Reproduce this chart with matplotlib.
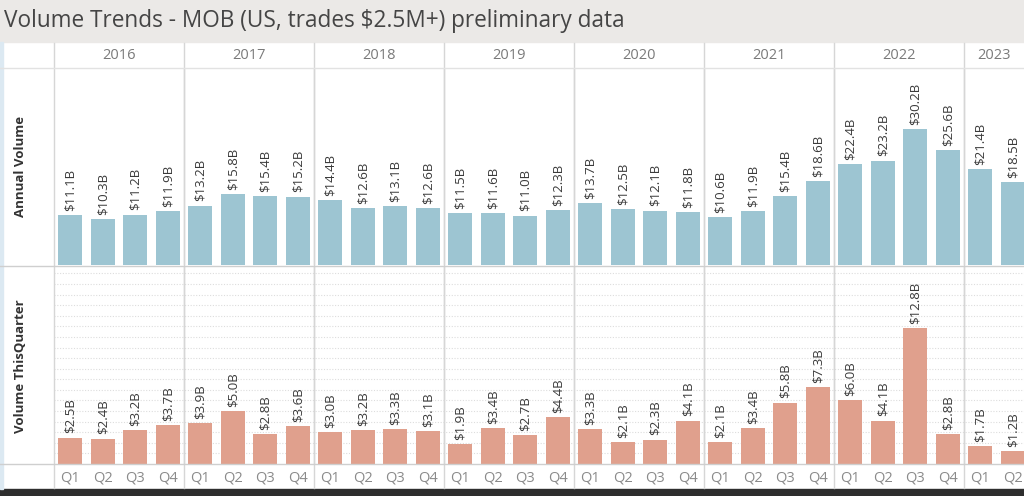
import numpy as np
import matplotlib.pyplot as plt
from matplotlib.patches import Rectangle
from matplotlib.lines import Line2D

plt.rcParams['font.family'] = ['Open Sans', 'DejaVu Sans']

years = ["2016", "2017", "2018", "2019", "2020", "2021", "2022", "2023"]
quarters = ["Q1", "Q2", "Q3", "Q4"]

# Annual Volume ($B), per quarter
annual = [11.1, 10.3, 11.2, 11.9,
          13.2, 15.8, 15.4, 15.2,
          14.4, 12.6, 13.1, 12.6,
          11.5, 11.6, 11.0, 12.3,
          13.7, 12.5, 12.1, 11.8,
          10.6, 11.9, 15.4, 18.6,
          22.4, 23.2, 30.2, 25.6,
          21.4, 18.5]
# Volume ThisQuarter ($B)
this_q = [2.5, 2.4, 3.2, 3.7,
          3.9, 5.0, 2.8, 3.6,
          3.0, 3.2, 3.3, 3.1,
          1.9, 3.4, 2.7, 4.4,
          3.3, 2.1, 2.3, 4.1,
          2.1, 3.4, 5.8, 7.3,
          6.0, 4.1, 12.8, 2.8,
          1.7, 1.2]

W, H = 1024, 496
fig = plt.figure(figsize=(W / 100, H / 100), dpi=100)
fig.patch.set_facecolor("white")

def fx(px):
    return px / W

def fy(py):
    return 1 - py / H

# title band + bottom dark strip
fig.patches.append(Rectangle((0, fy(42)), 1, 42 / H, transform=fig.transFigure,
                             color="#ebe9e7", zorder=0))
fig.patches.append(Rectangle((0, 0), 1, fy(489), transform=fig.transFigure,
                             color="#2e2e2e", zorder=0))
fig.patches.append(Rectangle((0, fy(489)), fx(3), (489 - 42) / H, transform=fig.transFigure,
                             color="#dce9f2", zorder=0))
fig.text(fx(4), fy(21), "Volume Trends - MOB (US, trades $2.5M+) preliminary data",
         fontsize=16.3, color="#454545", va="center", ha="left")

x = np.arange(len(annual))
xmin, xmax = -0.5, -0.5 + (W - 54) / 32.5

left = fx(54)
width = 1 - left
ax1 = fig.add_axes([left, fy(265), width, (265 - 68) / H])
ax2 = fig.add_axes([left, fy(464), width, (464 - 266) / H])

ax1.bar(x, annual, width=0.75, color="#9dc5d2", zorder=3)
ax1.set_ylim(0, 43.8)
ax2.bar(x, this_q, width=0.75, color="#e0a08d", zorder=3)
ax2.set_ylim(0, 18.7)

for ax, vals in [(ax1, annual), (ax2, this_q)]:
    ax.set_xlim(xmin, xmax)
    for s in ax.spines.values():
        s.set_visible(False)
    ax.set_yticks([])
    ax.tick_params(axis="x", length=0)
    for i, v in enumerate(vals):
        ax.annotate(f"${v:.1f}B", (x[i], v), xytext=(0, 3), textcoords="offset points",
                    rotation=90, ha="center", va="bottom", fontsize=9.5,
                    color="#3a3a3a", zorder=4)
    for k in range(1, len(years)):
        ax.axvline(4 * k - 0.5, color="#d6d6d6", lw=1, zorder=1)

ax1.set_xticks([])
ax2.set_xticks(x)
ax2.set_xticklabels([quarters[i % 4] for i in x], fontsize=10.5, color="#8a8a8a")
ax2.tick_params(axis="x", pad=5)

# faint dotted grid in bottom panel
for g in np.arange(1, 19):
    ax2.axhline(g, color="#dddddd", lw=0.8, ls=(0, (1, 1.5)), zorder=0)

# year header (last year centred in its visible part)
for k, yr in enumerate(years):
    cx = min(4 * k + 1.5, (4 * k - 0.5 + xmax) / 2)
    ax1.text(cx, (265 - 55) / (265 - 68), yr, transform=ax1.get_xaxis_transform(),
             ha="center", va="center", fontsize=10.5, color="#7a7a7a")

# separators spanning header and quarter-label rows
for k in range(0, len(years)):
    px = 54 + 130 * k
    fig.add_artist(Line2D([fx(px), fx(px)], [fy(488), fy(43)], color="#d6d6d6", lw=1))
fig.add_artist(Line2D([0, 1], [fy(68), fy(68)], color="#e2e2e2", lw=1))
fig.add_artist(Line2D([0, 1], [fy(266), fy(266)], color="#cfcfcf", lw=1))
fig.add_artist(Line2D([0, 1], [fy(464), fy(464)], color="#cfcfcf", lw=1))

fig.text(fx(21), fy(166), "Annual Volume", rotation=90, ha="center", va="center",
         fontsize=9.5, color="#333333", fontweight="bold")
fig.text(fx(21), fy(366), "Volume ThisQuarter", rotation=90, ha="center", va="center",
         fontsize=9.5, color="#333333", fontweight="bold")

fig.savefig("out.png", dpi=100)
